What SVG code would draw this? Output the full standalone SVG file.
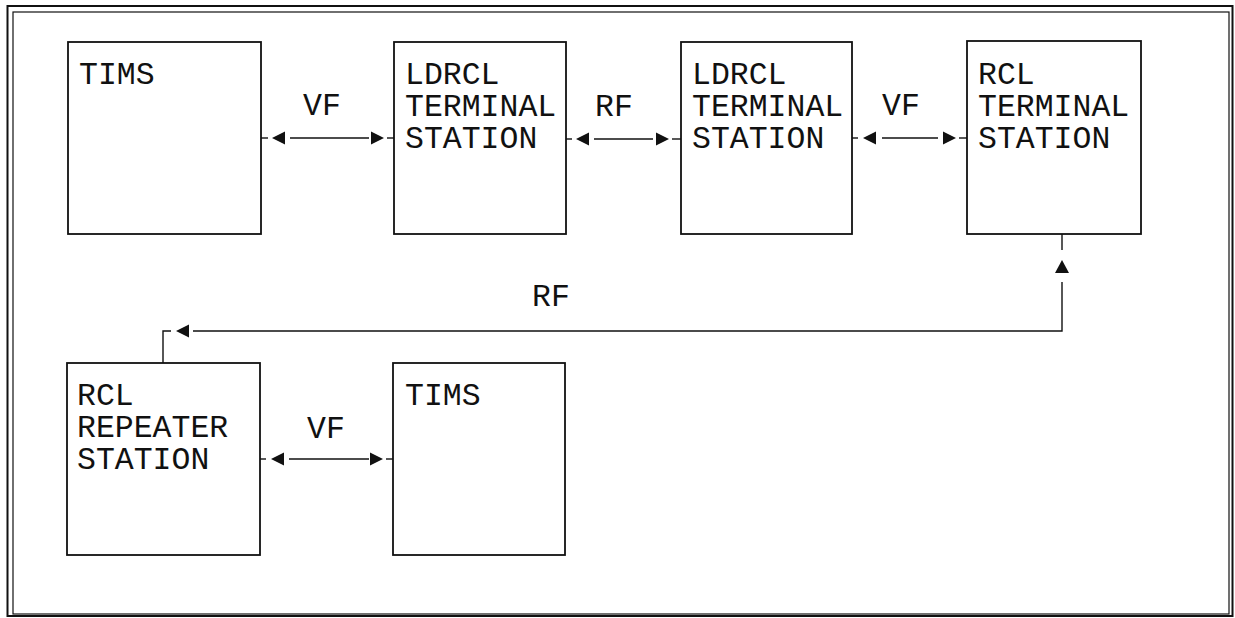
<svg xmlns="http://www.w3.org/2000/svg" xmlns:xlink="http://www.w3.org/1999/xlink" width="1235" height="618" viewBox="0 0 1235 618">
<style>
.frame{fill:none;stroke:#111;}
.box{fill:#fff;stroke:#111;stroke-width:1.8;}
.lbl{font-family:"Liberation Mono","Courier New",monospace;font-size:31.5px;fill:#111;}
.cl{font-family:"Liberation Mono","Courier New",monospace;font-size:31.5px;fill:#111;text-anchor:middle;}
.ln{stroke:#111;stroke-width:1.4;fill:none;}
.ah{fill:#111;}
</style>
<defs>
<polygon id="ahL" points="0,0 13,-6.5 13,6.5"/>
<polygon id="ahR" points="0,0 -13,-6.5 -13,6.5"/>
<polygon id="ahU" points="0,0 -7,13 7,13"/>
</defs>
<rect width="1235" height="618" fill="#fff"/>
<g id="frame">
<rect class="frame" x="7.5" y="6" width="1225" height="610" stroke-width="2"/>
<rect class="frame" x="13" y="12" width="1216" height="602" stroke-width="1.2"/>
</g>
<g id="node-tims1">
<rect class="box" x="68" y="42" width="193" height="192"/>
<text class="lbl" x="79" y="84">TIMS</text>
</g>
<g id="node-ldrcl1">
<rect class="box" x="394" y="42" width="172" height="192"/>
<text class="lbl" x="405" y="84">LDRCL</text>
<text class="lbl" x="405" y="116">TERMINAL</text>
<text class="lbl" x="405" y="148">STATION</text>
</g>
<g id="node-ldrcl2">
<rect class="box" x="681" y="42" width="171" height="192"/>
<text class="lbl" x="692" y="84">LDRCL</text>
<text class="lbl" x="692" y="116">TERMINAL</text>
<text class="lbl" x="692" y="148">STATION</text>
</g>
<g id="node-rcl-terminal">
<rect class="box" x="967" y="41" width="174" height="193"/>
<text class="lbl" x="978" y="84">RCL</text>
<text class="lbl" x="978" y="116">TERMINAL</text>
<text class="lbl" x="978" y="148">STATION</text>
</g>
<g id="node-rcl-repeater">
<rect class="box" x="67" y="363" width="193" height="192"/>
<text class="lbl" x="77" y="405">RCL</text>
<text class="lbl" x="77" y="437">REPEATER</text>
<text class="lbl" x="77" y="469">STATION</text>
</g>
<g id="node-tims2">
<rect class="box" x="393" y="363" width="172" height="192"/>
<text class="lbl" x="405" y="405">TIMS</text>
</g>
<g id="connectors">
<!-- VF 1 -->
<line class="ln" x1="261" y1="138" x2="268" y2="138"/>
<use xlink:href="#ahL" class="ah" x="272" y="138"/>
<line class="ln" x1="290" y1="138" x2="369" y2="138"/>
<use xlink:href="#ahR" class="ah" x="384" y="138"/>
<line class="ln" x1="387" y1="138" x2="394" y2="138"/>
<text class="cl" x="322" y="115">VF</text>
<!-- RF 1 -->
<line class="ln" x1="566" y1="139" x2="572" y2="139"/>
<use xlink:href="#ahL" class="ah" x="576" y="139"/>
<line class="ln" x1="594" y1="139" x2="653" y2="139"/>
<use xlink:href="#ahR" class="ah" x="669" y="139"/>
<line class="ln" x1="672" y1="139" x2="681" y2="139"/>
<text class="cl" x="614" y="116">RF</text>
<!-- VF 2 -->
<line class="ln" x1="852" y1="138" x2="858" y2="138"/>
<use xlink:href="#ahL" class="ah" x="863" y="138"/>
<line class="ln" x1="882" y1="138" x2="938" y2="138"/>
<use xlink:href="#ahR" class="ah" x="956" y="138"/>
<line class="ln" x1="959" y1="138" x2="967" y2="138"/>
<text class="cl" x="901" y="115">VF</text>
<!-- RF loop -->
<line class="ln" x1="1062" y1="234" x2="1062" y2="250"/>
<use xlink:href="#ahU" class="ah" x="1062" y="260"/>
<polyline class="ln" points="1062,282 1062,331 193,331"/>
<use xlink:href="#ahL" class="ah" x="176" y="331"/>
<polyline class="ln" points="171,331 163,331 163,363"/>
<text class="cl" x="551" y="306">RF</text>
<!-- VF 3 -->
<line class="ln" x1="260" y1="459" x2="266" y2="459"/>
<use xlink:href="#ahL" class="ah" x="271" y="459"/>
<line class="ln" x1="289" y1="459" x2="369" y2="459"/>
<use xlink:href="#ahR" class="ah" x="383" y="459"/>
<line class="ln" x1="386" y1="459" x2="393" y2="459"/>
<text class="cl" x="326" y="438">VF</text>
</g>
</svg>
